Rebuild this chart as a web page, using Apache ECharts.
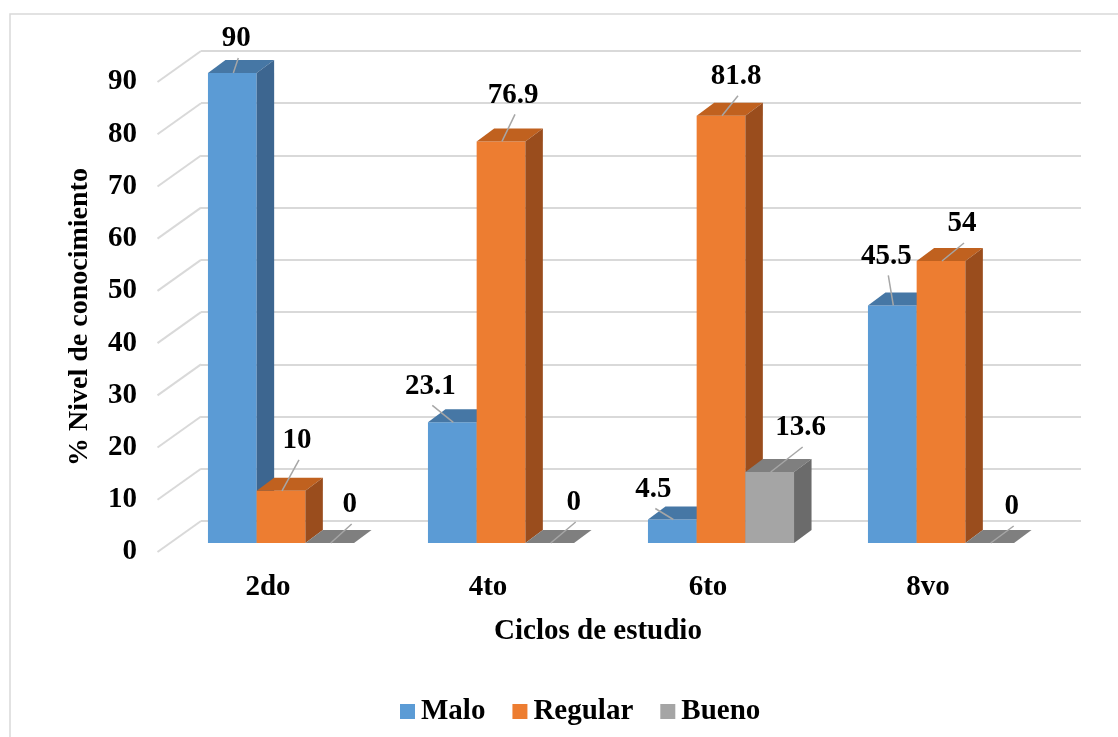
<!DOCTYPE html>
<html><head><meta charset="utf-8">
<script src="https://cdn.jsdelivr.net/npm/echarts@6/dist/echarts.min.js"></script>
<style>html,body{margin:0;padding:0;background:#fff}#c{width:1118px;height:737px}</style>
</head><body><div id="c"></div>
<script>
// ---- data ----
const categories = ['2do', '4to', '6to', '8vo'];
const seriesNames = ['Malo', 'Regular', 'Bueno'];
const malo = [90, 23.1, 4.5, 45.5];
const regular = [10, 76.9, 81.8, 54];
const bueno = [0, 0, 13.6, 0];
const yTicks = [0, 10, 20, 30, 40, 50, 60, 70, 80, 90];

// ---- layout / style ----
const FONT = 'Liberation Serif, Times New Roman, serif';
const faceColors = [
  { front: '#5B9BD5', top: '#4677A5', side: '#3D6690' },
  { front: '#ED7D31', top: '#C0611F', side: '#9A4D1D' },
  { front: '#A5A5A5', top: '#7F7F7F', side: '#6B6B6B' }
];
// label nudges relative to front-top centre of each bar (Excel manual label placement)
const labelNudge = [
  [[4, -34], [-22, -36], [-19, -30], [-6, -49]],
  [[16, -50], [12, -46], [15, -39], [21, -37]],
  [[20, -38], [24, -40], [31, -44], [22, -36]]
];
const DX = 17.5, DY = 13;      // bar depth
const WX = 43.5, WY = 31;      // floor depth

const seriesValues = [malo, regular, bueno];

function makeRender(sIdx) {
  const col = faceColors[sIdx];
  return function (params, api) {
    const i = api.value(0), v = api.value(1);
    const band = api.size([1, 0])[0];
    const barW = band * 0.664 / 3;
    const c = api.coord([i, v]), b = api.coord([i, 0]);
    const x0 = c[0] - 1.5 * barW + sIdx * barW;
    const yt = c[1], yb = b[1];
    const ch = [];
    if (yb - yt > 0.5) {
      ch.push({ type: 'rect', shape: { x: x0, y: yt, width: barW, height: yb - yt },
        style: { fill: col.front } });
    }
    ch.push({ type: 'polygon', shape: { points: [[x0, yt], [x0 + DX, yt - DY], [x0 + barW + DX, yt - DY], [x0 + barW, yt]] },
      style: { fill: col.top } });
    if (yb - yt > 0.5) {
      ch.push({ type: 'polygon', shape: { points: [[x0 + barW, yt], [x0 + barW + DX, yt - DY], [x0 + barW + DX, yb - DY], [x0 + barW, yb]] },
        style: { fill: col.side } });
    }
    const fx = x0 + barW / 2;
    const n = labelNudge[sIdx][i];
    const lx = fx + n[0], ly = yt + n[1];
    ch.push({ type: 'line', shape: { x1: fx + 1, y1: yt, x2: lx + 2, y2: ly + 19 },
      style: { stroke: '#A6A6A6', lineWidth: 1.5 } });
    ch.push({ type: 'text', x: lx, y: ly, style: { text: String(v), fill: '#000', font: 'bold 29px ' + FONT,
      align: 'center', verticalAlign: 'middle' } });
    return { type: 'group', children: ch };
  };
}

const chart = echarts.init(document.getElementById('c'), null, { renderer: 'canvas' });

const barSeries = seriesNames.map((name, s) => ({
  name: name,
  type: 'custom',
  xAxisIndex: 1, yAxisIndex: 1,
  itemStyle: { color: faceColors[s].front },
  data: categories.map((c, i) => [i, seriesValues[s][i]]),
  renderItem: makeRender(s),
  z: 3
}));

const option = {
  backgroundColor: '#fff',
  animation: false,
  graphic: [{ type: 'rect', shape: { x: 10, y: 14, width: 1200, height: 800 },
    style: { fill: 'none', stroke: '#D9D9D9', lineWidth: 1.5 } }],
  legend: {
    data: seriesNames.map(n => ({ name: n, icon: 'rect' })),
    left: 395, top: 692,
    itemWidth: 15, itemHeight: 15, itemGap: 27,
    textStyle: { fontFamily: FONT, fontWeight: 'bold', fontSize: 29, color: '#000', padding: [0, 0, 0, 1] }
  },
  grid: [
    { left: 201, right: 37, top: 51, height: 470 },   // back wall
    { left: 171, right: 67, top: 73, height: 470 },   // bar front plane
    { left: 158, right: 80, top: 82, height: 470 }    // floor front edge
  ],
  xAxis: [
    { gridIndex: 0, type: 'category', data: categories, show: false },
    { gridIndex: 1, type: 'category', data: categories, show: false },
    { gridIndex: 2, type: 'category', data: categories,
      axisLine: { show: false }, axisTick: { show: false },
      axisLabel: { margin: 21, fontFamily: FONT, fontWeight: 'bold', fontSize: 29, color: '#000' },
      name: 'Ciclos de estudio', nameLocation: 'middle', nameGap: 65,
      nameTextStyle: { fontFamily: FONT, fontWeight: 'bold', fontSize: 29, color: '#000' } }
  ],
  yAxis: [
    { gridIndex: 0, type: 'value', min: 0, max: 90, interval: 10,
      axisLine: { show: false }, axisTick: { show: false }, axisLabel: { show: false },
      splitLine: { lineStyle: { color: '#D9D9D9', width: 2 } } },
    { gridIndex: 1, type: 'value', min: 0, max: 90, interval: 10, show: false },
    { gridIndex: 2, type: 'value', min: 0, max: 90, interval: 10,
      axisLine: { show: false }, axisTick: { show: false }, splitLine: { show: false },
      axisLabel: { margin: 21, fontFamily: FONT, fontWeight: 'bold', fontSize: 29, color: '#000' },
      name: '% Nivel de conocimiento', nameLocation: 'middle', nameGap: 64, nameRotate: 90,
      nameTextStyle: { fontFamily: FONT, fontWeight: 'bold', fontSize: 28, color: '#000' } }
  ],
  series: [
    {
      type: 'custom', xAxisIndex: 0, yAxisIndex: 0, silent: true, z: 1,
      data: yTicks.map(t => [0, t]),
      renderItem: function (params, api) {
        const p = api.coord([0, api.value(1)]);
        const x = params.coordSys.x;
        return { type: 'line', shape: { x1: x, y1: p[1], x2: x - WX, y2: p[1] + WY },
          style: { stroke: '#D9D9D9', lineWidth: 2 } };
      }
    }
  ].concat(barSeries)
};
chart.setOption(option);
</script>
</body></html>
